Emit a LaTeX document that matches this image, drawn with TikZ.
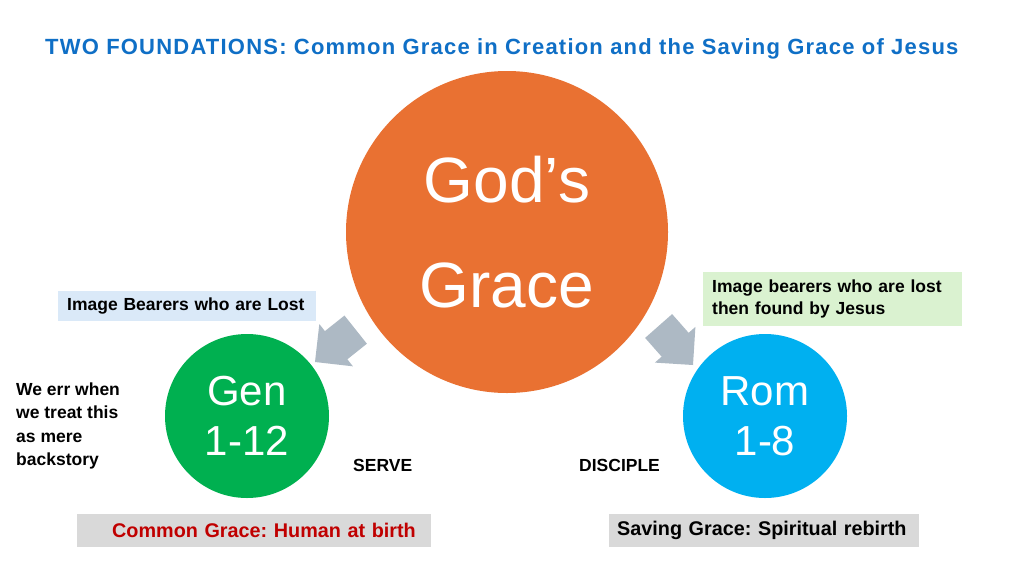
\documentclass[tikz,border=0pt]{standalone}
\usepackage{fontspec}
\setmainfont{Liberation Sans}
\frenchspacing
\definecolor{titleblue}{HTML}{0F6FC6}
\definecolor{godorange}{HTML}{E97132}
\definecolor{gengreen}{HTML}{00B050}
\definecolor{romblue}{HTML}{00B0F0}
\definecolor{arrowgray}{HTML}{ADB9C4}
\definecolor{boxblue}{HTML}{DAE9F8}
\definecolor{boxgreen}{HTML}{DAF2D0}
\definecolor{boxgray}{HTML}{D9D9D9}
\definecolor{redtext}{HTML}{C00000}
\tikzset{
  bigcircle/.style={circle, inner sep=0pt, align=center, text=white},
  lbl/.style={font=\fontsize{17.5}{23.5}\selectfont\bfseries, text=black, inner sep=0pt},
  labelbox/.style={lbl, rectangle, align=left, inner ysep=0pt},
  bottombox/.style={labelbox, fill=boxgray, minimum height=33pt, font=\fontsize{19.8}{24}\selectfont\bfseries},
  blockarrow/.style={fill=arrowgray}
}
\begin{document}
\begin{tikzpicture}[x=1pt,y=-1pt]
\useasboundingbox (0,0) rectangle (1024,576);
\fill[white] (0,0) rectangle (1024,576);

% title
\node[anchor=base west, inner sep=0pt, text=titleblue, font=\fontsize{22}{26}\selectfont\bfseries\addfontfeatures{LetterSpace=5.5}] (title) at (45,54)
  {TWO FOUNDATIONS: Common Grace in Creation and the Saving Grace of Jesus};

% block arrows
\fill[blockarrow, shift={(315,362)}, rotate=38.5]
  (0,0) -- (27,27) -- (27,18) -- (52,18) -- (52,-18) -- (27,-18) -- (27,-27) -- cycle;
\fill[blockarrow, shift={(693,365)}, rotate=131.4]
  (0,0) -- (27,27) -- (27,18) -- (52,18) -- (52,-18) -- (27,-18) -- (27,-27) -- cycle;

% circles
\node[bigcircle, fill=godorange, minimum size=322pt, font=\fontsize{64}{105}\selectfont] (god) at (507,232) {God’s\\Grace};
\node[bigcircle, fill=gengreen, minimum size=164pt, font=\fontsize{42}{50}\selectfont] (gen) at (247,416) {Gen\\1-12};
\node[bigcircle, fill=romblue, minimum size=164pt, font=\fontsize{42}{50}\selectfont] (rom) at (765,416) {Rom\\1-8};

% label boxes
\node[labelbox, fill=boxblue, minimum height=30pt, text width=240pt, inner xsep=9pt, anchor=north west] (lost) at (58,291)
  {Image Bearers who are Lost};
\node[labelbox, fill=boxgreen, minimum height=54pt, text width=241pt, inner xsep=9pt, font=\fontsize{17.5}{22}\selectfont\bfseries, anchor=north west] (found) at (703,272)
  {Image bearers who are lost\\then found by Jesus};
\node[bottombox, text width=354pt, inner xsep=0pt, text=redtext, anchor=north west] (common) at (77,514)
  {\hspace*{35pt}Common Grace: Human at birth};
\node[bottombox, text width=294pt, inner xsep=8pt, anchor=north west] (saving) at (609,514)
  {Saving Grace: Spiritual rebirth};

% free text
\node[lbl, align=left, anchor=north west] (err) at (16,382.5)
  {We err when\\we treat this\\as mere\\backstory};
\node[lbl, anchor=base west] (serve) at (353,471) {SERVE};
\node[lbl, anchor=base west] (disciple) at (579,471) {DISCIPLE};
\end{tikzpicture}
\end{document}
